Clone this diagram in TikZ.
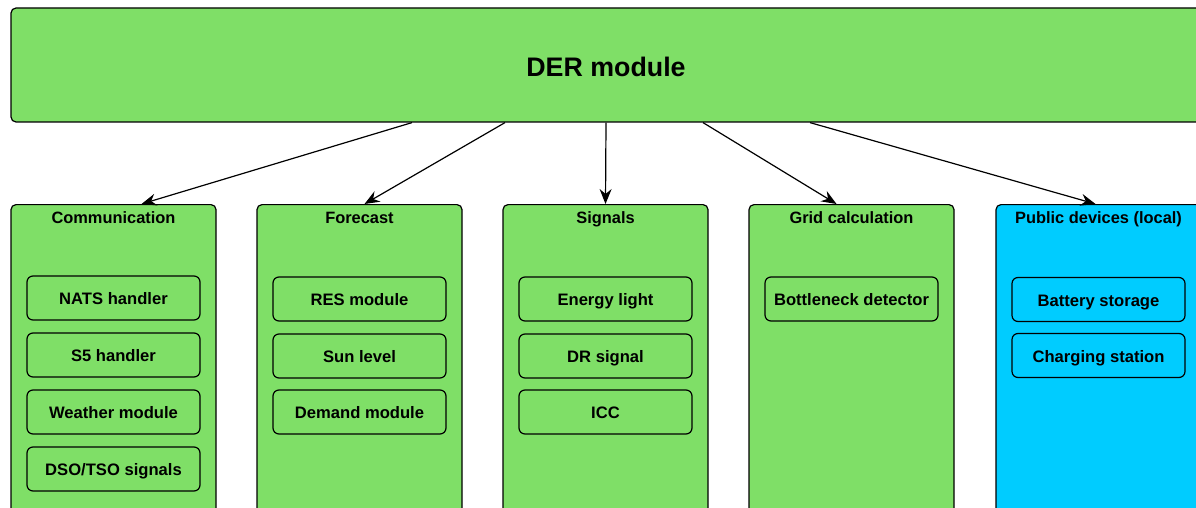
\documentclass[tikz,border=0pt]{standalone}
\usepackage{fontspec}
\setmainfont{Liberation Sans}
\usetikzlibrary{arrows.meta}
\definecolor{boxgreen}{HTML}{7FDF67}
\definecolor{boxblue}{HTML}{00CCFF}
\tikzset{
  x=1pt, y=-1pt,
  outline/.style={draw=black, line width=1.2pt},
  topbox/.style={outline, fill=boxgreen, rounded corners=5pt, minimum width=1190pt,
    minimum height=114pt, inner sep=0pt, text height=23pt, text depth=0pt,
    font=\bfseries\fontsize{26.8}{31}\selectfont},
  column/.style={outline, rounded corners=5pt, minimum width=205pt, minimum height=330pt,
    inner sep=0pt, anchor=north},
  greencol/.style={column, fill=boxgreen},
  bluecol/.style={column, fill=boxblue},
  coltitle/.style={anchor=base, inner sep=0pt, font=\bfseries\fontsize{16.4}{19}\selectfont},
  item/.style={outline, rounded corners=6pt, minimum width=173pt, minimum height=44pt,
    inner sep=0pt, text height=13.6pt, text depth=0pt,
    font=\bfseries\fontsize{16.6}{19}\selectfont},
  arr/.style={draw=black, line width=1.2pt, -{Stealth[length=15pt, width=12pt, inset=5pt]}},
}
\begin{document}
\begin{tikzpicture}
\useasboundingbox (0,0) rectangle (1196,508);
\clip (0,0) rectangle (1196,508);

% main module
\node[topbox] (der) at (606,65) {DER module};

% sub-module columns
\node[greencol] (comm) at (113.5,204) {};
\node[greencol] (fore) at (359.5,204) {};
\node[greencol] (sig)  at (605.5,204) {};
\node[greencol] (grid) at (851.5,204) {};
\node[bluecol]  (pub)  at (1098.5,204) {};

\node[coltitle] (commT) at (113.5,223.3) {Communication};
\node[coltitle] (foreT) at (359.5,223.3) {Forecast};
\node[coltitle] (sigT)  at (605.5,223.3) {Signals};
\node[coltitle] (gridT) at (851.5,223.3) {Grid calculation};
\node[coltitle] (pubT)  at (1098.5,223.3) {Public devices (local)};

% Communication
\node[item] (nats) at (113.5,298) {NATS handler};
\node[item] (s5)   at (113.5,355) {S5 handler};
\node[item] (weat) at (113.5,412) {Weather module};
\node[item] (dso)  at (113.5,469) {DSO/TSO signals};

% Forecast
\node[item] (res)  at (359.5,299) {RES module};
\node[item] (sun)  at (359.5,356) {Sun level};
\node[item] (dem)  at (359.5,412) {Demand module};

% Signals
\node[item] (elig) at (605.5,299) {Energy light};
\node[item] (drs)  at (605.5,356) {DR signal};
\node[item] (icc)  at (605.5,412) {ICC};

% Grid calculation
\node[item] (bott) at (851.5,299) {Bottleneck detector};

% Public devices
\node[item] (batt) at (1098.5,299.5) {Battery storage};
\node[item] (chrg) at (1098.5,355.5) {Charging station};

% connectors
\draw[arr] ([xshift=-194pt]der.south) -- ([xshift=28pt]comm.north);
\draw[arr] ([xshift=-101pt]der.south) -- ([xshift=5pt]fore.north);
\draw[arr] (der.south) -- (sig.north);
\draw[arr] ([xshift=97pt]der.south) -- ([xshift=-15pt]grid.north);
\draw[arr] ([xshift=204pt]der.south) -- ([xshift=-3pt]pub.north);
\end{tikzpicture}
\end{document}
